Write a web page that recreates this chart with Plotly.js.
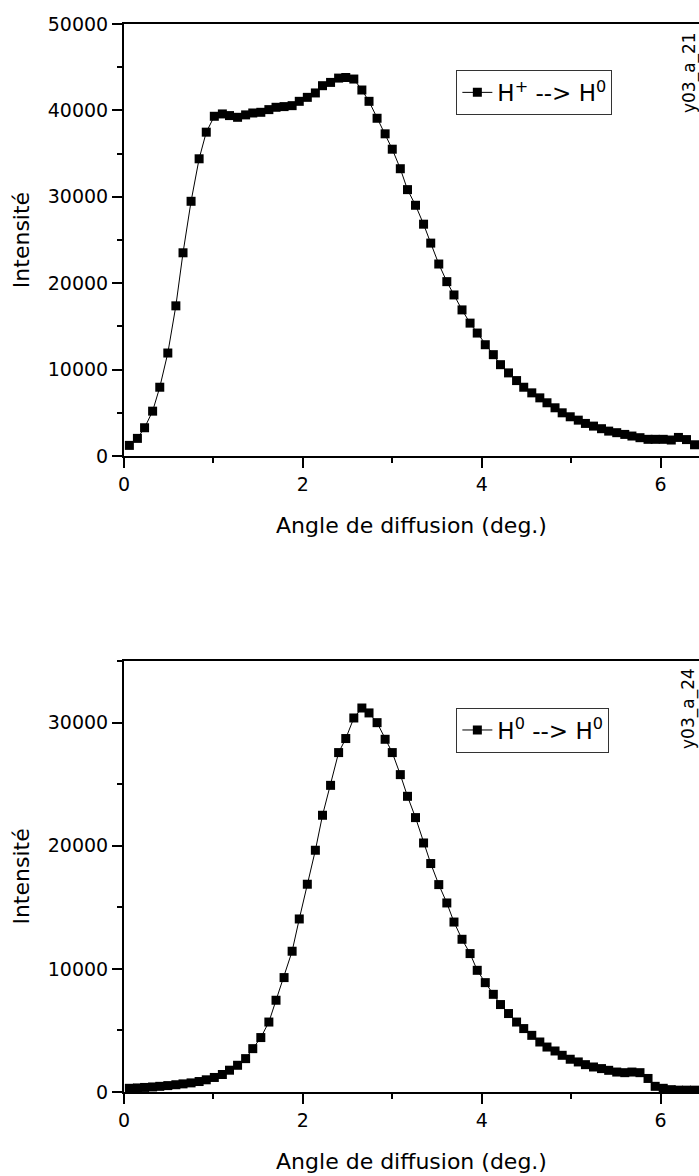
<!DOCTYPE html>
<html>
<head>
<meta charset="utf-8">
<script src="https://cdn.plot.ly/plotly-3.0.1.min.js"></script>
<style>
html,body{margin:0;padding:0;background:#fff;}
#chart{width:699px;height:1176px;}
</style>
</head>
<body>
<div id="chart"></div>
<script>
// Scattering angle (deg.)
var angle = [0.06, 0.15, 0.23, 0.32, 0.40, 0.49, 0.58, 0.66, 0.75, 0.84,
             0.92, 1.01, 1.10, 1.18, 1.27, 1.36, 1.44, 1.53, 1.62, 1.70,
             1.79, 1.88, 1.96, 2.05, 2.14, 2.22, 2.31, 2.40, 2.48, 2.57,
             2.66, 2.74, 2.83, 2.92, 3.00, 3.09, 3.17, 3.26, 3.35, 3.43,
             3.52, 3.61, 3.69, 3.78, 3.87, 3.95, 4.04, 4.13, 4.21, 4.30,
             4.39, 4.47, 4.56, 4.65, 4.73, 4.82, 4.90, 4.99, 5.08, 5.16,
             5.25, 5.34, 5.42, 5.51, 5.60, 5.68, 5.77, 5.86, 5.94, 6.03,
             6.12, 6.20, 6.29, 6.38];

// H+ --> H0 intensity
var intensityHplus = [1230, 2040, 3270, 5190, 7960, 11920, 17380, 23520, 29480, 34400,
                      37480, 39320, 39590, 39400, 39200, 39480, 39700, 39780, 40090, 40360,
                      40440, 40550, 41050, 41510, 42020, 42860, 43240, 43740, 43810, 43630,
                      42360, 41050, 39090, 37290, 35510, 33250, 30830, 29020, 26830, 24640,
                      22220, 20180, 18640, 16910, 15380, 14230, 12880, 11730, 10570, 9620,
                      8730, 7960, 7310, 6730, 6160, 5580, 5000, 4540, 4150, 3770,
                      3460, 3160, 2880, 2700, 2500, 2310, 2120, 1930, 1930, 1930,
                      1850, 2150, 1900, 1300];

// H0 --> H0 intensity
var intensityH0 = [300, 330, 370, 410, 460, 520, 590, 660, 740, 850,
                   990, 1180, 1420, 1770, 2170, 2710, 3520, 4420, 5680, 7450,
                   9290, 11430, 14050, 16870, 19630, 22470, 24900, 27560, 28700, 30370,
                   31180, 30780, 29990, 28640, 27560, 25770, 24010, 22280, 20220, 18550,
                   16840, 15350, 13800, 12400, 11240, 9880, 8880, 7930, 7100, 6370,
                   5680, 5150, 4600, 4060, 3650, 3330, 2980, 2660, 2440, 2220,
                   2030, 1900, 1760, 1620, 1570, 1620, 1570, 1100, 460, 300,
                   190, 150, 150, 150];

var seriesNames = ['H<sup>+</sup> --&gt; H<sup>0</sup>', 'H<sup>0</sup> --&gt; H<sup>0</sup>'];
var xTickVals = [0, 2, 4, 6];
var yTickTop = [0, 10000, 20000, 30000, 40000, 50000];
var yTickBottom = [0, 10000, 20000, 30000];
var panelTags = ['y03_a_21', 'y03_a_24'];

var FONT = 'DejaVu Sans, Verdana, sans-serif';

function mkTrace(y, name, xa, ya, leg) {
  return {
    x: angle, y: y, name: name, type: 'scatter', mode: 'lines+markers',
    xaxis: xa, yaxis: ya, legend: leg,
    line: {color: '#000', width: 1},
    marker: {symbol: 'square', size: 9, color: '#000', line: {width: 0}}
  };
}

var data = [
  mkTrace(intensityHplus, seriesNames[0], 'x', 'y', 'legend'),
  mkTrace(intensityH0, seriesNames[1], 'x2', 'y2', 'legend2')
];

function xAxis(anchor) {
  return {
    anchor: anchor, domain: [0, 1], range: [0, 6.43],
    showgrid: false, zeroline: false,
    showline: true, linecolor: '#000', linewidth: 2, mirror: true,
    ticks: 'outside', ticklen: 10, tickwidth: 2, tickcolor: '#000',
    tickmode: 'array', tickvals: xTickVals, tickformat: 'd',
    minor: {dtick: 1, ticks: 'outside', ticklen: 5, tickwidth: 2, tickcolor: '#000'},
    tickfont: {family: FONT, size: 19, color: '#000'},
    title: {text: 'Angle de diffusion (deg.)', font: {family: FONT, size: 22, color: '#000'}, standoff: 24}
  };
}
function yAxis(anchor, dom, rng, tv) {
  return {
    anchor: anchor, domain: dom, range: rng,
    showgrid: false, zeroline: false,
    showline: true, linecolor: '#000', linewidth: 2, mirror: false,
    ticks: 'outside', ticklen: 10, tickwidth: 2, tickcolor: '#000',
    tickmode: 'array', tickvals: tv, tickformat: 'd',
    minor: {dtick: 5000, ticks: 'outside', ticklen: 5, tickwidth: 2, tickcolor: '#000'},
    tickfont: {family: FONT, size: 19, color: '#000'},
    title: {text: 'Intensité', font: {family: FONT, size: 22, color: '#000'}, standoff: 12}
  };
}

var layout = {
  width: 699, height: 1176,
  margin: {l: 124, r: 0, t: 24, b: 84},
  paper_bgcolor: '#fff', plot_bgcolor: '#fff',
  font: {family: FONT, color: '#000'},
  showlegend: true,
  xaxis: xAxis('y'),
  yaxis: yAxis('x', [0.5955, 1], [0, 50000], yTickTop),
  xaxis2: xAxis('y2'),
  yaxis2: yAxis('x2', [0, 0.4036], [0, 35000], yTickBottom),
  legend: {x: 0.578, y: 0.957, xanchor: 'left', yanchor: 'top',
           bgcolor: '#fff', bordercolor: '#333', borderwidth: 1,
           font: {family: FONT, size: 23, color: '#000'}},
  legend2: {x: 0.578, y: 0.360, xanchor: 'left', yanchor: 'top',
            bgcolor: '#fff', bordercolor: '#333', borderwidth: 1,
            font: {family: FONT, size: 23, color: '#000'}},
  annotations: [
    {xref: 'paper', yref: 'paper', x: 0.9826, y: 0.955, text: panelTags[0], textangle: -90,
     showarrow: false, xanchor: 'center', yanchor: 'middle', font: {family: FONT, size: 17, color: '#000'}},
    {xref: 'paper', yref: 'paper', x: 0.9826, y: 0.3596, text: panelTags[1], textangle: -90,
     showarrow: false, xanchor: 'center', yanchor: 'middle', font: {family: FONT, size: 17, color: '#000'}}
  ]
};

Plotly.newPlot('chart', data, layout, {displayModeBar: false, staticPlot: true});
</script>
</body>
</html>
